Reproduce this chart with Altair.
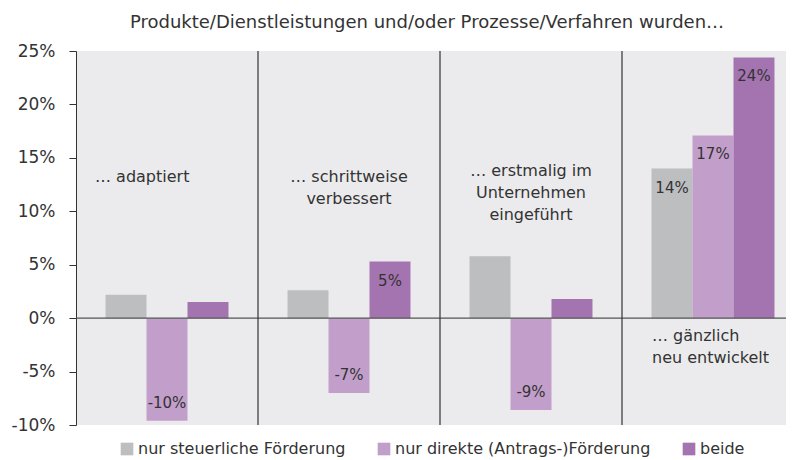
import altair as alt
import pandas as pd

categories = ["… adaptiert", "… schrittweise\nverbessert", "… erstmalig im\nUnternehmen\neingeführt", "… gänzlich\nneu entwickelt"]
series = ["nur steuerliche Förderung", "nur direkte (Antrags-)Förderung", "beide"]
colors = ["#bdbec0", "#c29fca", "#a474b0"]

steuerlich = [2.2, 2.6, 5.8, 14.0]
direkt = [-9.6, -7.0, -8.6, 17.1]
beide = [1.5, 5.3, 1.8, 24.4]

show_steuerlich = [False, False, False, True]
show_direkt = [True, True, True, True]
show_beide = [False, True, False, True]

title = "Produkte/Dienstleistungen und/oder Prozesse/Verfahren wurden…"
y_ticks = [-10, -5, 0, 5, 10, 15, 20, 25]

rows = []
for s, vals, shows in zip(series, [steuerlich, direkt, beide], [show_steuerlich, show_direkt, show_beide]):
    for c, v, sh in zip(categories, vals, shows):
        rows.append({"group": c, "series": s, "value": v,
                     "label": (f"{round(v)}%" if sh else "")})
df = pd.DataFrame(rows)

FONT = "DejaVu Sans"
TXT = "#333333"
W, H = 710, 374
XR = 728  # band range runs past the visible right edge, as in the original

x_scale = alt.Scale(paddingInner=0, paddingOuter=0, range=[0, XR])
x_enc = alt.X("group:N", sort=categories, scale=x_scale, axis=None)
xo_enc = alt.XOffset("series:N", sort=series, scale=alt.Scale(paddingInner=0, paddingOuter=0.72))
y_scale = alt.Scale(domain=[-10, 25], nice=False, zero=False)

base = alt.Chart(df)

bars = base.mark_bar().encode(
    x=x_enc,
    xOffset=xo_enc,
    y=alt.Y("value:Q", scale=y_scale,
            axis=alt.Axis(values=y_ticks, labelExpr="datum.value + '%'", grid=False, title=None,
                          domainColor="#333333", tickColor="#333333", tickSize=7,
                          labelFont=FONT, labelFontSize=17, labelColor=TXT, labelPadding=14)),
    color=alt.Color("series:N", sort=series, scale=alt.Scale(domain=series, range=colors),
                    legend=alt.Legend(title=None, orient="none", direction="horizontal",
                                      legendX=43, legendY=390, symbolType="square",
                                      symbolSize=160, symbolStrokeWidth=0, labelFont=FONT,
                                      labelFontSize=16, labelColor=TXT, columnPadding=30,
                                      labelOffset=3, labelLimit=0)),
)

pos_labels = base.transform_filter("datum.value >= 0").mark_text(
    baseline="middle", dy=19, font=FONT, fontSize=15, color=TXT
).encode(x=x_enc, xOffset=xo_enc, y=alt.Y("value:Q", scale=y_scale), text="label:N")

neg_labels = base.transform_filter("datum.value < 0").mark_text(
    baseline="middle", dy=-18, font=FONT, fontSize=15, color=TXT
).encode(x=x_enc, xOffset=xo_enc, y=alt.Y("value:Q", scale=y_scale), text="label:N")

zero = alt.Chart(pd.DataFrame({"v": [0]})).mark_rule(color="#555555", strokeWidth=1.2).encode(
    y=alt.Y("v:Q", scale=y_scale)
)

sep = alt.Chart(pd.DataFrame({"group": categories[1:]})).mark_rule(color="#333333", strokeWidth=1.2).encode(
    x=alt.X("group:N", sort=categories, bandPosition=0, scale=x_scale, axis=None),
    y=alt.datum(-10, scale=y_scale), y2=alt.datum(25)
)

def annot(cat, yv, align, dx):
    return alt.Chart(pd.DataFrame({"group": [cat]})).mark_text(
        align=align, baseline="top", dx=dx, lineBreak="\n", lineHeight=22,
        font=FONT, fontSize=16, color=TXT
    ).encode(x=alt.X("group:N", sort=categories, scale=x_scale, axis=None), y=alt.datum(yv), text="group:N")

a1 = annot(categories[0], 14.0, "left", -72)
a2 = annot(categories[1], 14.0, "center", 0)
a3 = annot(categories[2], 14.5, "center", 0)
a4 = annot(categories[3], -0.9, "left", -61)

chart = alt.layer(bars, zero, sep, pos_labels, neg_labels, a1, a2, a3, a4).properties(
    width=W, height=H,
    title=alt.TitleParams(title, font=FONT, fontSize=18, fontWeight="normal", color=TXT, offset=10, dx=-4),
    padding={"left": 68, "top": 43, "right": 0, "bottom": 35},
    autosize=alt.AutoSizeParams(type="none"),
).configure_view(fill="#ebebed", stroke=None)

chart.save("out.html", embed_options={"renderer": "svg", "actions": False})
